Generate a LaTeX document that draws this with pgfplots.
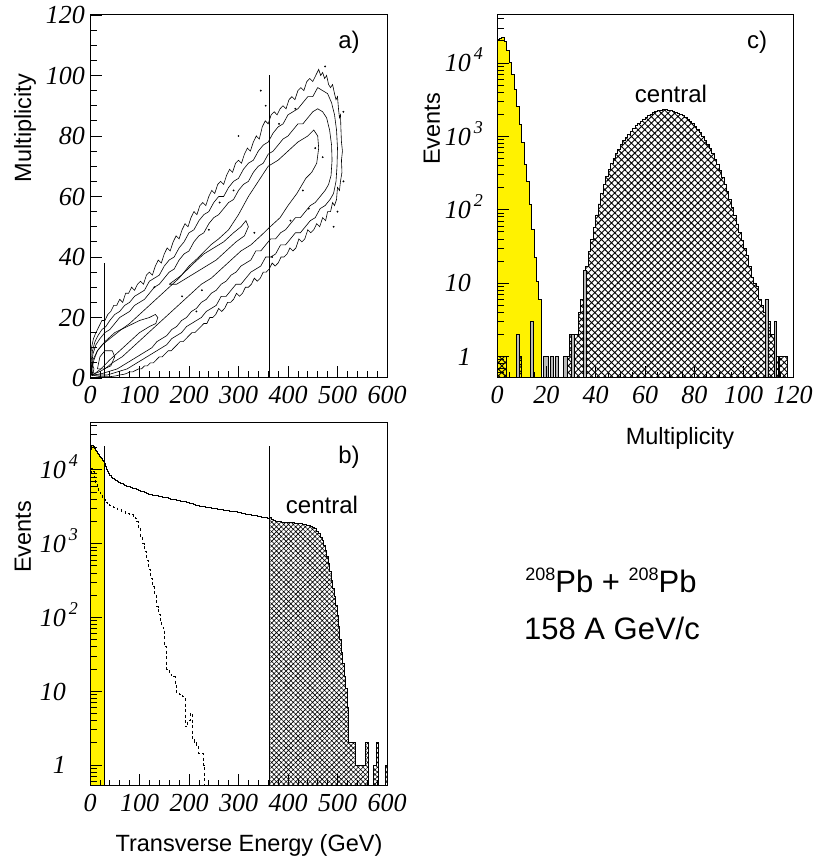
\documentclass[border=0pt]{standalone}
\usepackage{pgfplots}
\pgfplotsset{compat=1.18}
\usepackage{pgfplotstable}
\usetikzlibrary{patterns.meta}
\usepackage{fontspec}
\setmainfont{Liberation Sans}
\newfontfamily\tms{Liberation Serif}
\newcommand\ex[1]{\hspace{3pt}\raisebox{12pt}{\fontsize{18}{18}\selectfont #1}}
\pgfplotsset{rootax/.style={scale only axis, axis on top, tick align=inside, tick pos=left,
  anchor=south west,
  major tick length=12pt, minor tick length=6.5pt,
  every tick/.style={black, line width=0.8pt},
  axis line style={line width=1pt},
  ticklabel style={font=\tms\itshape\fontsize{26}{26}\selectfont},
  xticklabel style={yshift=-4.5pt}}}
\begin{document}
\pgfplotstableread{
x y
0 12000
2 19000
4 21000
6 21500
8 20800
10 19600
12 18500
14 17600
16 16800
18 16000
20 15300
22 14600
24 14000
26 13300
28 12800
30 12300
32 11000
34 10200
36 9400
38 8800
40 8300
43 7900
46 7500
49 7300
52 7050
55 6900
58 6700
61 6600
64 6450
67 6300
70 6200
74 6000
78 5900
82 5800
86 5650
90 5550
94 5400
98 5250
102 5100
106 5000
110 4900
114 4800
118 4650
122 4580
126 4500
130 4480
134 4420
138 4380
142 4330
146 4270
150 4200
154 4170
158 4080
162 4000
166 3950
170 3900
174 3860
178 3800
182 3760
186 3700
190 3680
194 3610
198 3550
202 3480
206 3440
210 3380
214 3330
218 3250
222 3200
226 3180
230 3130
234 3100
238 3070
242 3050
246 3010
250 2980
254 2950
258 2930
262 2890
266 2870
270 2840
274 2820
278 2790
282 2760
286 2740
290 2720
294 2680
298 2640
302 2600
306 2570
310 2540
314 2510
318 2480
322 2450
326 2420
330 2400
334 2370
338 2340
342 2320
346 2290
350 2270
354 2240
358 2220
362 2230
366 2150
370 2080
374 2020
378 1990
382 1970
386 1960
390 1950
394 1940
398 1930
402 1920
406 1910
410 1900
414 1890
418 1880
422 1870
426 1860
430 1830
434 1810
438 1780
442 1740
446 1700
450 1650
454 1580
458 1480
462 1350
466 1220
469 1090
472 950
475 810
478 660
481 530
484 420
487 320
490 250
493 190
496 145
499 105
502 75
505 50
508 33
511 24
514 16
517 11
520 6
522 2
530 2
533 2
537 1
549 1
553 1
557 2
562 0.1
572 1
578 2
582 0.1
596 1
600 1
}\solidB
\pgfplotstableread{
x y
0 12000
2 19000
4 21000
6 21500
8 20800
10 19600
12 18500
14 17600
16 16800
18 16000
20 15300
22 14600
24 14000
26 13300
28 12800
30 12800
}\yelB
\pgfplotstableread{
x y
0 9000
2 10500
5 9500
8 7800
11 6500
14 5600
17 5100
20 4800
25 4000
30 3600
35 3400
40 3300
47 3100
55 2900
63 2750
71 2600
79 2480
87 2350
91 2200
94 1990
98 1600
102 1250
106 1000
110 780
114 600
118 450
122 340
126 260
130 200
134 140
138 110
142 90
145 74
148 68
151 40
155 19.5
160 17
165 16
168 15.7
172 12
175 9.4
181 9
187 8.4
192 3.3
197 4
202 5
206 2.2
210 2
215 1.8
219 1.45
224 1.45
229 1
232 0.1
240 0.1
}\dashB
\pgfplotstableread{
x y
0 20600
1 21700
2 22200
3 19500
4 15000
5 10000
6 6900
7 4300
8 2560
9 1440
10 820
11 410
12 240
13 117
14 53
15 22
16 10.5
17 5.9
18 5.9
}\yelC
\pgfplotstableread{
x y
0 1
4 0.1
8 1
10 0.1
28.5 1
29.5 2
33 4
34 6
35 10
36 17
37 27
38 40
39 58
40 85
41 120
42 165
43 220
44 285
45 355
46 430
47 500
48 580
49 670
50 770
51 870
52 970
53 1070
54 1170
55 1280
56 1390
57 1500
58 1610
59 1720
60 1830
61 1930
62 2020
63 2100
64 2170
65 2230
66 2270
67 2300
68 2300
69 2280
70 2250
71 2200
72 2140
73 2070
74 1990
75 1910
76 1820
77 1720
78 1610
79 1490
80 1370
81 1240
82 1120
83 1000
84 890
85 780
86 680
87 580
88 490
89 410
90 340
91 275
92 220
93 175
94 138
95 108
96 84
97 64
98 49
99 38
100 30
101 24
102 17
103 12
104 10
105 9
106 6
107 5
108 4
110 3
111 2
113 1
114 0.1
114.5 1
117.8 1
}\cenC
\pgfplotstableread{
x y
7.7 2
9 0.1
13.6 3
14.7 0.1
18.7 1
20.7 0.1
21.5 1
22.7 0.1
23.5 1
24.7 0.1
26.8 1
28.4 0.1
30.2 2
31.5 0.1
35 15
36.3 0.1
108.6 6
109.8 0.1
112.3 3
113.3 0.1
}\greyC
\begin{tikzpicture}
\useasboundingbox (0,0) rectangle (813pt,861pt);
% ---------------- panel a
\begin{axis}[rootax, at={(90pt,483pt)}, width=297pt, height=363pt,
  xmin=0, xmax=600, ymin=0, ymax=120,
  xtick={0,100,200,300,400,500,600}, xticklabels={0,100,200,300,400,500,600},
  minor x tick num=4,
  ytick={0,20,40,60,80,100,120}, yticklabels={0,20,40,60,80,100,120},
  minor y tick num=3, yticklabel style={xshift=-1.5pt}]
\addplot[black, line width=0.6pt] coordinates {
(2,2) (1,6) (3,10) (7,13) (12,15) (18,17) (24,19) (30,19) (36,21) (42,22) (48,24) (54,24) (60,26) (66,25) (72,28) (78,28) (84,30) (90,29) (96,31) (102,32) (108,31) (114,34) (120,35) (126,34) (132,37) (138,39) (144,38) (150,41) (156,43) (162,42) (168,45) (174,47) (180,46) (186,49) (192,51) (198,50) (204,53) (210,55) (216,54) (222,57) (228,58) (234,57) (240,60) (246,62) (252,61) (258,64) (264,65) (270,64) (276,67) (282,69) (288,68) (294,71) (300,72) (306,71) (312,74) (318,76) (324,75) (330,78) (336,80) (342,79) (348,83) (354,85) (360,84) (366,87) (372,88) (378,87) (384,89) (390,90) (396,89) (402,92) (408,93) (414,92) (420,95) (426,96) (432,95) (438,98) (444,99) (450,98) (456,100) (462,102) (466,100) (470,101) (474,99) (478,100) (482,97) (486,96) (490,97) (494,94) (497,92) (500,93) (502,89) (504,86) (506,87) (507,82) (508,78) (510,75) (508,72) (509,68) (506,65) (504,62) (500,63) (498,59) (494,57) (490,58) (486,55) (480,55) (476,52) (470,53) (464,50) (458,51) (452,49) (446,48) (440,49) (434,46) (428,45) (422,46) (416,43) (410,42) (404,43) (398,41) (392,40) (386,40) (380,38) (374,37) (368,38) (362,36) (356,35) (350,35) (344,33) (338,32) (332,33) (326,31) (320,30) (314,30) (308,28) (302,27) (296,28) (290,26) (284,25) (278,25) (272,23) (266,22) (260,23) (254,21) (248,20) (242,20) (236,18) (230,18) (224,17) (218,16) (212,15) (206,15) (200,14) (194,13) (188,12) (182,12) (176,11) (170,10) (164,9) (158,9) (152,8) (146,7) (140,7) (134,6) (128,5) (122,5) (116,4) (110,4) (104,3) (98,3) (92,2.5) (86,2) (80,2) (74,1.5) (68,1.2) (60,1) (52,0.7) (44,0.5) (36,0.4) (28,0.4) (20,0.5) (12,0.7) (6,1) (2,2)};
\addplot[black, line width=0.6pt] coordinates {
(3,1) (2,5) (5,9) (10,12) (16,14) (24,16) (32,17) (40,19) (50,21) (60,22) (70,24) (80,25) (90,27) (100,28) (110,29) (120,32) (130,33) (140,34) (150,37) (160,39) (170,40) (180,43) (190,45) (200,48) (210,49) (220,52) (230,54) (240,55) (250,58) (260,60) (270,60) (280,63) (290,65) (300,66) (310,69) (320,71) (330,72) (340,75) (350,77) (360,78) (370,81) (380,83) (390,84) (400,87) (410,88) (420,89) (430,91) (440,93) (450,93) (460,96) (470,95) (480,94) (488,91) (494,87) (498,82) (500,76) (499,70) (497,65) (492,61) (485,59) (475,57) (465,56) (455,53) (445,52) (435,50) (425,48) (415,48) (405,46) (395,44) (385,44) (375,41) (365,40) (355,40) (345,37) (335,36) (325,35) (315,33) (305,31) (295,31) (285,29) (275,27) (265,27) (255,24) (245,23) (235,22) (225,20) (215,19) (205,18) (195,17) (185,15) (175,14) (165,13) (155,11) (145,10) (135,9) (125,8) (115,7) (105,6) (95,5) (85,4) (75,3) (65,2.5) (55,2) (45,1.5) (35,1) (25,1) (15,1) (8,1) (3,1)};
\addplot[black, line width=0.6pt] coordinates {
(4,1) (3,4) (6,8) (12,11) (20,13) (30,15) (40,16) (50,18) (60,20) (70,21) (80,22) (90,24) (100,25) (110,26) (120,28) (130,30) (140,31) (150,33) (160,35) (170,36) (180,39) (190,41) (200,42) (210,45) (220,47) (230,48) (240,51) (250,53) (260,54) (270,56) (280,58) (290,59) (300,62) (310,64) (320,65) (330,68) (340,70) (350,71) (360,74) (370,75) (380,77) (390,79) (400,80) (410,82) (420,84) (430,84) (440,86) (450,88) (460,89) (470,88) (478,86) (484,82) (488,77) (489,72) (487,67) (482,64) (475,62) (465,60) (455,58) (445,57) (435,55) (425,53) (415,53) (405,51) (395,49) (385,48) (375,46) (365,46) (355,44) (345,42) (335,42) (325,39) (315,38) (305,37) (295,35) (285,34) (275,32) (265,31) (255,29) (245,28) (235,26) (225,25) (215,23) (205,22) (195,20) (185,19) (175,17) (165,16) (155,14) (145,13) (135,12) (125,10) (115,9) (105,8) (95,7) (85,6) (75,5) (65,4) (55,3) (45,2.5) (35,2) (25,1.5) (15,1.2) (8,1) (4,1)};
\addplot[black, line width=0.6pt] coordinates {
(5,1) (4,3) (8,6) (15,9) (25,11) (40,13) (63,16) (80,18) (100,21) (120,24) (140,27) (160,30) (180,33) (200,37) (220,40) (244,44) (260,46) (280,49) (300,54) (320,60) (340,65) (360,70) (380,72) (400,75) (420,78) (440,80) (452,82) (460,80) (462,76) (458,71) (448,68) (436,66) (418,61) (400,57) (384,53) (364,50) (345,47) (325,44) (305,42) (285,39) (265,36) (245,33) (225,31) (205,28) (185,25) (165,22) (145,19) (125,16) (105,13) (85,10) (65,7) (45,5) (30,3) (18,2) (10,1.5) (5,1)};
\addplot[black, line width=0.6pt] coordinates {
(160,31) (185,34) (210,38) (230,41) (250,43) (270,45) (290,48) (305,50) (315,52) (320,50) (312,47) (295,45) (275,42) (255,39) (235,37) (215,35) (195,33) (175,31) (160,31)};
\addplot[black, line width=0.6pt] coordinates {
(3,2) (6,6) (15,9) (30,12) (50,15) (75,17) (100,19) (120,20) (132,21) (137,20) (133,18) (120,17) (100,15) (80,12) (60,9) (40,6) (22,3) (10,1.5) (3,2)};
\addplot[black, line width=0.6pt] coordinates {
(15,3) (20,7) (30,9) (45,9) (50,7) (42,4) (28,3) (15,3)};
\addplot[black, line width=0.6pt] coordinates {
(2,1) (4,5) (8,3) (5,0.8) (2,1)};
\addplot[only marks, mark=*, mark size=0.7pt, black] coordinates {
(475,103) (512,88) (512,65) (492,50) (455,76) (470,73) (262,58) (290,62) (345,95) (355,90) (382,84) (405,52) (430,62) (442,56) (186,27) (215,22) (226,29) (415,89) (368,40) (300,80) (130,30) (240,49) (500,55) (332,48)};
\addplot[black, line width=0.8pt] coordinates {(30,0) (30,38)};
\addplot[black, line width=0.8pt] coordinates {(362,0) (362,100)};
\end{axis}
% ---------------- panel b
\begin{axis}[rootax, at={(90pt,75pt)}, width=297pt, height=363pt,
  ymode=log, log origin=infty,
  xmin=0, xmax=600, ymin=0.52, ymax=43000,
  xtick={0,100,200,300,400,500,600}, xticklabels={0,100,200,300,400,500,600},
  minor x tick num=4,
  ytick={1,10,100,1000,10000},
  yticklabels={\phantom{1}1,10,10\ex{2},10\ex{3},10\ex{4}},
  minor ytick={0.6,0.7,0.8,0.9,2,3,4,5,6,7,8,9,20,30,40,50,60,70,80,90,200,300,400,500,600,700,800,900,2000,3000,4000,5000,6000,7000,8000,9000,20000,30000,40000},
  yticklabel style={anchor=base west, xshift=-53.7pt, yshift=-8.8pt}]
\addplot[const plot, fill=yellow, draw=none] table {\yelB} \closedcycle;
\addplot[const plot, draw=none, pattern={Hatch[angle=45,distance=3.4pt,line width=0.6pt]}, restrict x to domain=361:601] table {\solidB} \closedcycle;
\addplot[const plot, black, line width=1pt] table {\solidB};
\addplot[const plot, black, line width=0.7pt, dash pattern=on 3pt off 2.5pt] table {\dashB};
\addplot[black, line width=0.8pt] coordinates {(30,0.3) (30,21000)};
\addplot[black, line width=0.8pt] coordinates {(362,0.3) (362,21000)};
\end{axis}
% ---------------- panel c
\begin{axis}[rootax, at={(497pt,483pt)}, width=296pt, height=363pt,
  ymode=log, log origin=infty,
  xmin=0, xmax=120, ymin=0.51, ymax=45000,
  xtick={0,20,40,60,80,100,120}, xticklabels={0,20,40,60,80,100,120},
  minor x tick num=3,
  ytick={1,10,100,1000,10000},
  yticklabels={\phantom{1}1,10,10\ex{2},10\ex{3},10\ex{4}},
  minor ytick={0.6,0.7,0.8,0.9,2,3,4,5,6,7,8,9,20,30,40,50,60,70,80,90,200,300,400,500,600,700,800,900,2000,3000,4000,5000,6000,7000,8000,9000,20000,30000,40000},
  yticklabel style={anchor=base west, xshift=-55.7pt, yshift=-8.8pt}]
\addplot[const plot, fill=yellow, draw=black, line width=1pt] table {\yelC} \closedcycle;
\addplot[const plot, draw=black, line width=0.8pt, pattern={Hatch[angle=45,distance=4.7pt,line width=0.9pt]}] table {\cenC} \closedcycle;
\addplot[const plot, draw=black, line width=0.6pt, fill=gray!55] table {\greyC} \closedcycle;
\end{axis}
% ---------------- texts
\node[rotate=90, font=\fontsize{23.5}{28}\selectfont] at (25pt,733pt) {Multiplicity};
\node[rotate=90, font=\fontsize{23.5}{28}\selectfont] at (23pt,324pt) {Events};
\node[font=\fontsize{23.5}{28}\selectfont] at (249pt,16pt) {Transverse Energy (GeV)};
\node[rotate=90, font=\fontsize{23.5}{28}\selectfont] at (432pt,732pt) {Events};
\node[font=\fontsize{23.5}{28}\selectfont] at (680pt,423pt) {Multiplicity};
\node[font=\fontsize{24}{28}\selectfont] at (349pt,819pt) {a)};
\node[font=\fontsize{24}{28}\selectfont] at (349pt,404pt) {b)};
\node[font=\fontsize{24}{28}\selectfont] at (757pt,819pt) {c)};
\node[font=\fontsize{24}{28}\selectfont] at (322pt,356pt) {central};
\node[font=\fontsize{24}{28}\selectfont] at (671pt,767pt) {central};
\node[anchor=base, inner sep=0pt, font=\fontsize{31}{36}\selectfont] at (611pt,268pt) {\raisebox{12pt}{\fontsize{18}{18}\selectfont 208}Pb + \raisebox{12pt}{\fontsize{18}{18}\selectfont 208}Pb};
\node[anchor=base, inner sep=0pt, font=\fontsize{31}{36}\selectfont] at (612pt,221pt) {158 A GeV/c};
\end{tikzpicture}
\end{document}
